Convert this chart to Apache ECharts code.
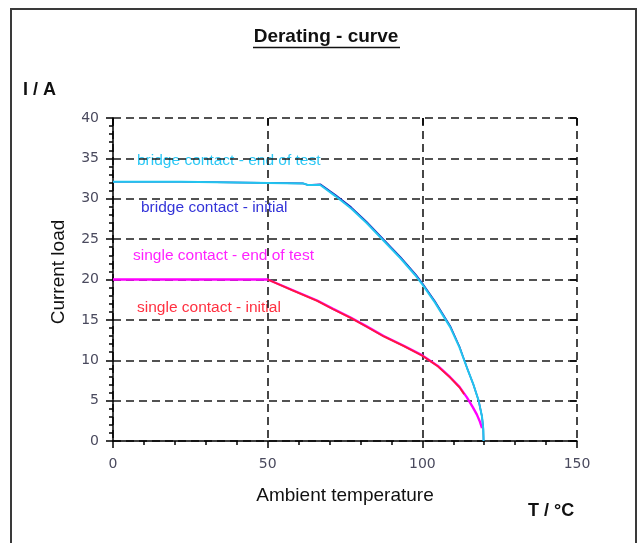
<!DOCTYPE html>
<html>
<head>
<meta charset="utf-8">
<script src="https://cdn.jsdelivr.net/npm/echarts@6/dist/echarts.min.js"></script>
<style>html,body{margin:0;padding:0;background:#fff}#c{width:641px;height:543px}</style>
</head>
<body>
<div id="c"></div>
<script>
// ---- data (T in °C, I in A) ----
const bridgeEndOfTest = [[0,32.1],[22,32.1],[22.5,31.9],[61.5,31.9],[63,31.7],[67,31.7],[72,30.3],[77,28.8],[82,27],[87.5,24.8],[93,22.6],[98,20.4],[100,19.4],[104,17.2],[109,14.1],[112,11.6],[114.4,9.1],[116.5,7],[118.2,5],[119.3,3],[119.7,1.5],[119.8,0]];
const bridgeInitial = [[0,32.1],[22,32.1],[22.5,31.9],[61.5,31.9],[63,31.7],[67,31.8],[72,30.45],[77,28.95],[82,27.15],[87.5,24.95],[93,22.75],[98,20.55],[100,19.55],[104,17.35],[109,14.25],[112,11.7],[114.4,9.1],[116.5,7],[118.2,5],[119.3,3],[119.7,1.5],[119.8,0]];
const singleEndOfTest = [[0,20],[50,20],[50.4,19.9],[58,18.7],[66,17.4],[71,16.4],[76.8,15.3],[82,14.2],[87.5,13],[94,11.8],[100,10.6],[105,9.3],[109,7.9],[112,6.7],[114.4,5.4],[116.3,4.2],[117.6,3.3],[118.6,2.4],[119.3,1.6]];
const singleInitial = [[50,20],[58,18.65],[66,17.35],[71,16.35],[76.8,15.25],[82,14.15],[87.5,12.95],[94,11.75],[100,10.55],[105,9.25],[109,7.85],[112,6.65],[113.5,5.8]];
const xTicks = {min:0, max:150, interval:50};
const yTicks = {min:0, max:40, interval:5};
const seriesNames = ['bridge contact - end of test','bridge contact - initial','single contact - end of test','single contact - initial'];

const chart = echarts.init(document.getElementById('c'));
const labelFont = {fontFamily:'DejaVu Sans', fontSize:14, color:'#4a4a5e'};
const gridLine = {show:true, lineStyle:{color:'#1a1a1a', type:[8,5], width:1.6}};
function mkX(main){
  return {type:'value', min:xTicks.min, max:xTicks.max, interval:xTicks.interval,
    axisLine:{show:main, onZero:false, lineStyle:{color:'#000', width:1.5}},
    axisTick:{show:true, inside:!main, length:7, lineStyle:{color:'#000', width:1.5}},
    minorTick:{show:main, splitNumber:5, length:4, lineStyle:{color:'#000', width:1.5}},
    axisLabel:Object.assign({show:main, margin:16}, labelFont),
    splitLine: main ? gridLine : {show:false}};
}
function mkY(main){
  return {type:'value', min:yTicks.min, max:yTicks.max, interval:yTicks.interval,
    axisLine:{show:main, onZero:false, lineStyle:{color:'#000', width:1.5}},
    axisTick:{show:true, inside:!main, length:7, lineStyle:{color:'#000', width:1.5}},
    minorTick:{show:main, splitNumber:5, length:4, lineStyle:{color:'#000', width:1.5}},
    axisLabel:Object.assign({show:main, margin:14}, labelFont),
    splitLine: main ? gridLine : {show:false}};
}
const txt = (x,y,text,color,extra) => Object.assign({type:'text', x, y,
  style:Object.assign({text, fill:color, font:'15.5px "Liberation Sans"', textVerticalAlign:'middle'}, extra||{})});
const line = (name, data, color, width, z) => ({name, type:'line', data, showSymbol:false, z,
  lineStyle:{color, width}});

chart.setOption({
  animation:false,
  backgroundColor:'#fff',
  grid:{left:113, right:64, top:118, bottom:102},
  xAxis:[mkX(true), mkX(false)],
  yAxis:[mkY(true), mkY(false)],
  series:[
    line(seriesNames[1], bridgeInitial, '#1c1cb4', 1.6, 3),
    line(seriesNames[0], bridgeEndOfTest, '#22c4ef', 2, 4),
    line(seriesNames[2], singleEndOfTest, '#ff00ff', 2.4, 3),
    line(seriesNames[3], singleInitial, '#ff1a3c', 1.8, 4)
  ],
  graphic:[
    {type:'rect', shape:{x:11, y:9, width:625, height:560}, style:{fill:'none', stroke:'#3a3a3a', lineWidth:2}},
    txt(326, 37, 'Derating - curve', '#111', {font:'bold 19px "Liberation Sans"', textAlign:'center'}),
    {type:'line', shape:{x1:253, y1:47.5, x2:400, y2:47.5}, style:{stroke:'#111', lineWidth:1.5}},
    txt(23, 90, 'I / A', '#111', {font:'bold 18px "Liberation Sans"'}),
    txt(528, 511, 'T / °C', '#111', {font:'bold 18px "Liberation Sans"'}),
    txt(345, 496, 'Ambient temperature', '#111', {font:'19px "Liberation Sans"', textAlign:'center'}),
    {type:'text', x:59, y:272, rotation:Math.PI/2,
      style:{text:'Current load', fill:'#111', font:'19px "Liberation Sans"', textAlign:'center', textVerticalAlign:'middle'}},
    txt(137, 161, seriesNames[0], '#2ec8f5'),
    txt(141, 208, seriesNames[1], '#3434d8'),
    txt(133, 256, seriesNames[2], '#ff22ff'),
    txt(137, 308, seriesNames[3], '#ff3040')
  ]
});
</script>
</body>
</html>
